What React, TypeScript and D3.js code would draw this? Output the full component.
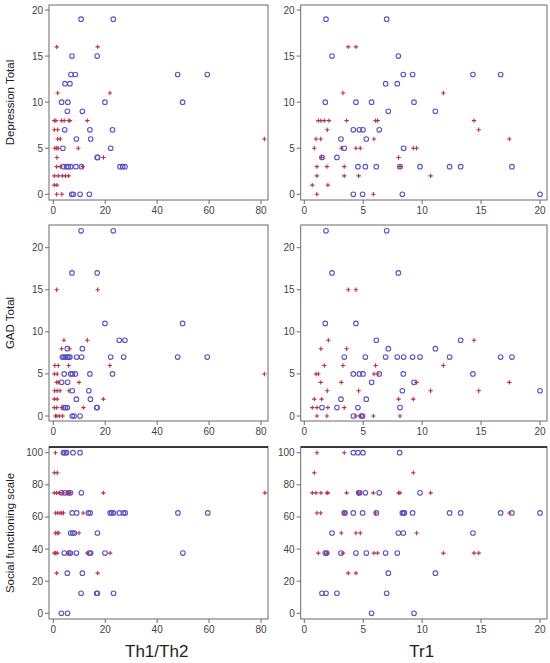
import React from "react";
import * as d3 from "d3";

type P = [number, number];

// Depression Total vs Th1/Th2
const depTh_circle: P[] = [
  [10.7, 19], [23.1, 19], [7.2, 15], [16.9, 15], [6.8, 13], [8.5, 13], [47.9, 13], [59.3, 13],
  [4.5, 12], [6.4, 12], [3.2, 10], [5.6, 10], [19.9, 10], [49.8, 10], [5.4, 9], [11.2, 9],
  [4.4, 7], [14.1, 7], [22.8, 7], [8.9, 6], [14.4, 6], [3.7, 5], [22.1, 5], [16.9, 4], [17.1, 4],
  [3.9, 3], [5.1, 3], [5.8, 3], [6.7, 3], [8.7, 3], [10.8, 3], [25.7, 3], [26.7, 3], [27.6, 3],
  [7.1, 0], [7.7, 0], [10.3, 0], [13.9, 0],
];
const depTh_plus: P[] = [
  [1.3, 16], [17.1, 16], [1.7, 11], [21.8, 11], [0.4, 8], [1.0, 8], [3.2, 8], [4.2, 8], [6.0, 8],
  [6.4, 8], [13.1, 8], [0.4, 7], [1.7, 7], [1.7, 6], [2.7, 6], [0.6, 5], [1.3, 5], [1.9, 5], [9.6, 5],
  [1.4, 4], [19.3, 4], [1.3, 3], [2.7, 3], [11.3, 3], [0.4, 2], [1.9, 2], [3.5, 2], [4.7, 2], [5.9, 2],
  [0.4, 1], [1.4, 1], [1.3, 0], [3.3, 0], [81.3, 6],
];

// Depression Total vs Tr1
const depTr_circle: P[] = [
  [1.84, 19], [6.99, 19], [2.35, 15], [7.98, 15], [8.4, 13], [9.19, 13], [14.31, 13], [16.66, 13],
  [6.9, 12], [7.89, 12], [1.78, 10], [4.38, 10], [5.71, 10], [9.31, 10], [7.13, 9], [11.12, 9],
  [4.16, 7], [4.67, 7], [4.98, 7], [6.36, 7], [3.11, 6], [5.26, 6], [3.39, 5], [8.43, 5],
  [1.5, 4], [2.77, 4], [4.55, 3], [5.18, 3], [6.11, 3], [8.12, 3], [9.82, 3], [12.33, 3], [13.27, 3],
  [17.62, 3], [4.16, 0], [4.95, 0], [8.32, 0], [20.0, 0],
];
const depTr_plus: P[] = [
  [3.73, 16], [4.38, 16], [3.28, 11], [11.8, 11], [1.19, 8], [1.41, 8], [1.7, 8], [2.09, 8], [3.59, 8],
  [6.05, 8], [6.22, 8], [14.4, 8], [1.95, 7], [14.8, 7], [0.99, 6], [1.39, 6], [5.91, 6], [17.4, 6],
  [0.85, 5], [3.14, 5], [4.38, 5], [4.75, 5], [9.25, 5], [9.53, 5], [1.47, 4], [8.0, 4],
  [1.07, 3], [1.92, 3], [3.39, 3], [8.12, 3], [1.07, 2], [3.39, 2], [4.61, 2], [10.72, 2],
  [0.68, 1], [2.0, 1], [1.07, 0], [5.86, 0],
];

// GAD Total vs Th1/Th2
const gadTh_circle: P[] = [
  [10.7, 22], [23.1, 22], [7.2, 17], [16.9, 17], [19.9, 11], [49.8, 11], [25.4, 9], [27.6, 9],
  [5.4, 8], [11.2, 8], [3.5, 7], [4.1, 7], [4.7, 7], [5.5, 7], [6.0, 7], [6.4, 7], [9.0, 7], [10.9, 7],
  [22.1, 7], [27.1, 7], [47.9, 7], [59.3, 7], [4.2, 5], [6.7, 5], [7.4, 5], [8.5, 5], [14.1, 5], [22.8, 5],
  [3.2, 4], [5.5, 4], [7.3, 3], [13.7, 3], [8.9, 2], [14.3, 2], [4.0, 1], [4.7, 1], [5.4, 1], [16.7, 1],
  [16.9, 1], [7.3, 0], [8.0, 0], [10.3, 0],
];
const gadTh_plus: P[] = [
  [1.3, 15], [17.1, 15], [4.1, 9], [13.1, 9], [3.2, 8], [6.3, 8], [0.6, 6], [1.9, 6], [5.9, 6], [21.8, 6],
  [0.4, 5], [1.5, 5], [1.3, 4], [1.9, 4], [9.9, 4], [0.5, 3], [1.5, 3], [2.6, 3], [6.0, 3],
  [0.4, 2], [1.5, 2], [19.3, 2], [0.4, 1], [1.3, 1], [3.3, 1], [11.6, 1],
  [0.8, 0], [1.4, 0], [2.4, 0], [3.6, 0], [81.3, 5],
];

// GAD Total vs Tr1
const gadTr_circle: P[] = [
  [1.84, 22], [6.99, 22], [2.35, 17], [7.98, 17], [1.78, 11], [4.38, 11], [6.11, 9], [13.27, 9],
  [7.13, 8], [11.12, 8], [3.39, 7], [5.18, 7], [6.9, 7], [7.89, 7], [8.43, 7], [9.19, 7], [9.82, 7],
  [12.33, 7], [16.66, 7], [17.62, 7], [4.16, 5], [4.67, 5], [4.98, 5], [6.36, 5], [8.4, 5], [14.31, 5],
  [5.71, 4], [9.31, 4], [8.32, 3], [20.0, 3], [3.11, 2], [5.26, 2], [2.77, 1], [4.55, 1], [8.12, 1],
  [1.5, 1], [4.16, 0], [4.84, 0], [4.95, 0],
];
const gadTr_plus: P[] = [
  [3.73, 15], [4.38, 15], [2.04, 9], [14.4, 9], [1.41, 8], [3.59, 8], [1.7, 6], [3.28, 6], [6.05, 6],
  [11.8, 6], [0.99, 5], [1.19, 5], [5.91, 5], [6.22, 5], [1.39, 4], [3.14, 4], [9.53, 4], [17.4, 4],
  [1.95, 3], [4.61, 3], [10.72, 3], [14.8, 3], [0.85, 2], [1.47, 2], [8.0, 2], [9.25, 2],
  [0.68, 1], [1.07, 1], [2.0, 1], [3.39, 1], [1.07, 0], [1.92, 0], [4.38, 0], [4.75, 0], [5.86, 0], [8.12, 0],
];

// Social functioning scale vs Th1/Th2
const socTh_circle: P[] = [
  [3.9, 100], [4.5, 100], [5.1, 100], [7.6, 100], [10.3, 100], [3.2, 75], [4.5, 75], [5.8, 75], [6.6, 75],
  [10.8, 75], [7.3, 62.5], [9.0, 62.5], [13.5, 62.5], [14.2, 62.5], [21.9, 62.5], [22.5, 62.5], [23.2, 62.5],
  [25.5, 62.5], [27.0, 62.5], [27.7, 62.5], [48.0, 62.5], [59.5, 62.5], [6.7, 50], [7.5, 50], [8.1, 50],
  [17.0, 50], [4.2, 37.5], [6.0, 37.5], [6.6, 37.5], [8.9, 37.5], [13.9, 37.5], [14.4, 37.5], [19.9, 37.5],
  [49.9, 37.5], [5.4, 25], [11.2, 25], [10.7, 12.5], [16.7, 12.5], [17.0, 12.5], [23.2, 12.5],
  [3.1, 0], [5.5, 0],
];
const socTh_plus: P[] = [
  [0.8, 100], [0.4, 87.5], [1.5, 87.5], [0.4, 75], [1.3, 75], [2.2, 75], [3.5, 75], [5.5, 75], [6.4, 75],
  [19.3, 75], [81.5, 75], [0.9, 62.5], [1.7, 62.5], [2.6, 62.5], [3.3, 62.5], [3.9, 62.5], [11.5, 62.5],
  [0.8, 50], [1.5, 50], [2.1, 50], [9.9, 50], [0.4, 37.5], [0.9, 37.5], [1.5, 37.5], [5.8, 37.5],
  [13.1, 37.5], [21.9, 37.5], [1.3, 25], [17.1, 25],
];

// Social functioning scale vs Tr1
const socTr_circle: P[] = [
  [4.16, 100], [4.55, 100], [4.98, 100], [8.09, 100], [4.61, 75], [4.7, 75], [5.18, 75], [6.36, 75], [9.82, 75],
  [3.39, 62.5], [3.45, 62.5], [4.16, 62.5], [4.95, 62.5], [6.11, 62.5], [8.32, 62.5], [8.43, 62.5], [8.49, 62.5],
  [9.19, 62.5], [12.33, 62.5], [13.27, 62.5], [16.66, 62.5], [17.62, 62.5], [20.0, 62.5], [2.35, 50],
  [7.98, 50], [8.4, 50], [14.31, 50], [1.78, 37.5], [1.9, 37.5], [3.11, 37.5], [4.38, 37.5], [5.26, 37.5],
  [6.9, 37.5], [7.89, 37.5], [7.13, 25], [11.12, 25], [1.5, 12.5], [1.84, 12.5], [2.77, 12.5], [6.99, 12.5],
  [5.71, 0], [9.31, 0],
];
const socTr_plus: P[] = [
  [1.07, 100], [3.39, 100], [0.85, 87.5], [9.25, 87.5], [0.68, 75], [0.99, 75], [1.41, 75], [1.92, 75],
  [2.0, 75], [3.59, 75], [4.61, 75], [5.86, 75], [8.0, 75], [8.12, 75], [10.72, 75], [1.07, 62.5],
  [1.39, 62.5], [3.39, 62.5], [6.05, 62.5], [17.4, 62.5], [3.14, 50], [4.38, 50], [4.75, 50], [9.53, 50],
  [1.19, 37.5], [1.95, 37.5], [3.28, 37.5], [5.91, 37.5], [6.22, 37.5], [11.8, 37.5], [14.4, 37.5],
  [14.8, 37.5], [3.73, 25], [4.38, 25],
];

const thTicks = [0, 20, 40, 60, 80];
const trTicks = [0, 5, 10, 15, 20];
const depTicks = [0, 5, 10, 15, 20];
const gadTicks = [0, 5, 10, 15, 20];
const socTicks = [0, 20, 40, 60, 80, 100];

const xTitles = ["Th1/Th2", "Tr1"];
const yTitles = ["Depression Total", "GAD Total", "Social functioning scale"];

const BLUE = "#5d52c4";
const RED = "#b3344c";
const FONT = "'Liberation Sans', Arial, sans-serif";

interface PanelProps {
  x0: number; x1: number; y0: number; y1: number;
  xDom: [number, number]; xRange: [number, number];
  yDom: [number, number]; yRange: [number, number];
  xTicks: number[]; yTicks: number[];
  circles: P[]; pluses: P[];
  topDark?: boolean;
}

function Panel(p: PanelProps) {
  const xs = d3.scaleLinear().domain(p.xDom).range(p.xRange);
  const ys = d3.scaleLinear().domain(p.yDom).range(p.yRange);
  return (
    <g>
      <rect x={p.x0} y={p.y0} width={p.x1 - p.x0} height={p.y1 - p.y0} fill="#fff" stroke="#6b6b6b" strokeWidth={1} />
      {p.topDark && <line x1={p.x0} x2={p.x1} y1={p.y0} y2={p.y0} stroke="#111" strokeWidth={1.5} />}
      {p.xTicks.map((t) => (
        <g key={"x" + t}>
          <line x1={xs(t)} x2={xs(t)} y1={p.y1} y2={p.y1 + 4} stroke="#6b6b6b" />
          <text x={xs(t)} y={p.y1 + 14} fontSize={10} fill="#444" textAnchor="middle" fontFamily={FONT}>{t}</text>
        </g>
      ))}
      {p.yTicks.map((t) => (
        <g key={"y" + t}>
          <line x1={p.x0 - 4} x2={p.x0} y1={ys(t)} y2={ys(t)} stroke="#6b6b6b" />
          <text x={p.x0 - 6} y={ys(t) + 3.5} fontSize={10} fill="#444" textAnchor="end" fontFamily={FONT}>{t}</text>
        </g>
      ))}
      {p.circles.map((d, i) => (
        <circle key={"c" + i} cx={xs(d[0])} cy={ys(d[1])} r={2.3} fill="none" stroke={BLUE} strokeWidth={1.1} />
      ))}
      {p.pluses.map((d, i) => {
        const cx = xs(d[0]);
        const cy = ys(d[1]);
        return (
          <path key={"p" + i} d={`M${cx - 2.2},${cy}H${cx + 2.2}M${cx},${cy - 2.2}V${cy + 2.2}`} stroke={RED} strokeWidth={1.1} fill="none" />
        );
      })}
    </g>
  );
}

export default function App() {
  const L = { x0: 49, x1: 268, xDom: [0, 80] as [number, number], xRange: [53.3, 261] as [number, number], xTicks: thTicks };
  const R = { x0: 300.7, x1: 547, xDom: [0, 20] as [number, number], xRange: [304.3, 540] as [number, number], xTicks: trTicks };
  const rows = [
    { y0: 5, y1: 200, yDom: [0, 20] as [number, number], yRange: [194.3, 10] as [number, number], yTicks: depTicks, c: [depTh_circle, depTr_circle], p: [depTh_plus, depTr_plus] },
    { y0: 225, y1: 421, yDom: [0, 20] as [number, number], yRange: [416, 247.7] as [number, number], yTicks: gadTicks, c: [gadTh_circle, gadTr_circle], p: [gadTh_plus, gadTr_plus] },
    { y0: 447, y1: 619, yDom: [0, 100] as [number, number], yRange: [613.3, 452.7] as [number, number], yTicks: socTicks, c: [socTh_circle, socTr_circle], p: [socTh_plus, socTr_plus], topDark: true },
  ];
  return (
    <svg width={550} height={663} style={{ position: "absolute", left: 0, top: 0, background: "#fff" }}>
      <rect x={0} y={0} width={550} height={663} fill="#fff" />
      {rows.map((r, ri) =>
        [L, R].map((c, ci) => (
          <Panel key={ri + "-" + ci} x0={c.x0} x1={c.x1} y0={r.y0} y1={r.y1} xDom={c.xDom} xRange={c.xRange}
            yDom={r.yDom} yRange={r.yRange} xTicks={c.xTicks} yTicks={r.yTicks}
            circles={r.c[ci]} pluses={r.p[ci]} topDark={r.topDark} />
        ))
      )}
      {rows.map((r, ri) => (
        <text key={"yt" + ri} transform={`translate(14,${(r.y0 + r.y1) / 2}) rotate(-90)`} textAnchor="middle"
          fontSize={11.5} fill="#222" fontFamily={FONT}>{yTitles[ri]}</text>
      ))}
      <text x={156.7} y={657} textAnchor="middle" fontSize={17} fill="#222" fontFamily={FONT}>{xTitles[0]}</text>
      <text x={421.7} y={657} textAnchor="middle" fontSize={17} fill="#222" fontFamily={FONT}>{xTitles[1]}</text>
    </svg>
  );
}
